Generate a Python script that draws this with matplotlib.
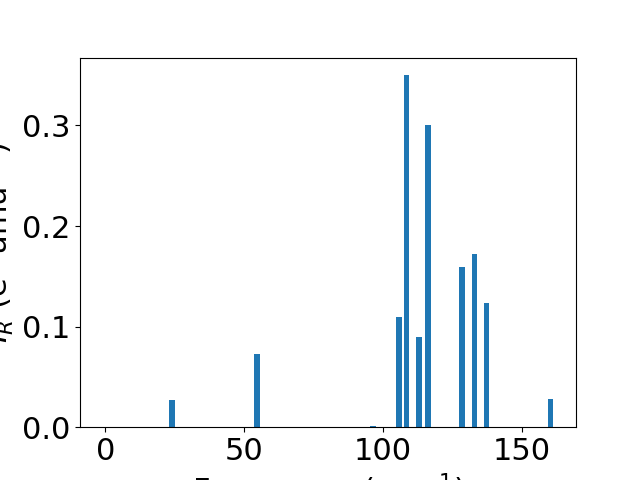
import matplotlib

matplotlib.use("Agg")
import matplotlib.pyplot as plt

# IR-active modes: frequency (cm^-1) and intensity (e^2 amu^-1)
freqs = [0.0, 24.0, 54.7, 96.4, 105.8, 108.5, 113.0, 116.2, 128.5, 133.0, 137.3, 160.4]
intensities = [0.0, 0.0266, 0.0724, 0.0012, 0.110, 0.350, 0.0893, 0.300, 0.159, 0.172, 0.123, 0.0276]

plt.rcParams["font.size"] = 22

fig, ax = plt.subplots(figsize=(6.4, 4.8), dpi=100)
ax.bar(freqs, intensities, width=2, color="#1f77b4")
ax.set_xlabel("Frequency (cm$^{-1}$)")
ax.set_ylabel("$I_R$ (e$^2$ amu$^{-1}$)")

fig.savefig("out.png", dpi=100)
